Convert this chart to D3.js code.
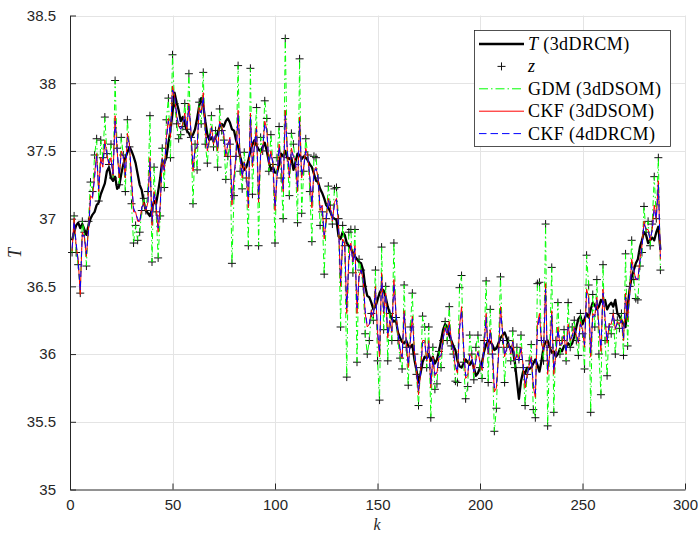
<!DOCTYPE html>
<html>
<head>
<meta charset="utf-8">
<script src="https://cdn.jsdelivr.net/npm/d3@7"></script>
<style>
  body { margin: 0; background: #fff; }
  svg { display: block; }
</style>
</head>
<body>
<svg id="chart"></svg>
<script>
// tick values
const xTicks = [0, 50, 100, 150, 200, 250, 300];
const yTicks = [35, 35.5, 36, 36.5, 37, 37.5, 38, 38.5];

// T (3dDRCM), k = 1..288
const tTrue = [
  36.84,36.90,36.95,36.97,36.93,36.96,36.92,36.88,36.95,37.00,37.03,37.05,
  37.10,37.12,37.18,37.22,37.26,37.35,37.38,37.30,37.28,37.31,37.22,37.24,
  37.33,37.40,37.45,37.49,37.53,37.50,37.46,37.41,37.33,37.25,37.21,37.12,
  37.06,37.04,37.02,37.07,37.13,37.11,37.20,37.30,37.43,37.41,37.45,37.56,
  37.65,37.78,37.93,37.86,37.80,37.72,37.75,37.70,37.65,37.63,37.60,37.62,
  37.66,37.74,37.83,37.89,37.84,37.72,37.62,37.58,37.60,37.57,37.60,37.63,
  37.68,37.70,37.68,37.72,37.74,37.71,37.66,37.65,37.58,37.53,37.46,37.40,
  37.36,37.38,37.43,37.50,37.55,37.58,37.54,37.51,37.50,37.53,37.56,37.50,
  37.42,37.36,37.38,37.34,37.34,37.40,37.48,37.46,37.50,37.45,37.44,37.45,
  37.36,37.42,37.48,37.47,37.44,37.46,37.45,37.43,37.40,37.38,37.33,37.28,
  37.27,37.22,37.19,37.15,37.10,37.08,37.05,37.01,37.00,36.99,36.87,36.85,
  36.90,36.88,36.82,36.80,36.78,36.75,36.72,36.70,36.68,36.67,36.62,36.50,
  36.43,36.42,36.38,36.33,36.35,36.40,36.45,36.48,36.47,36.42,36.35,36.30,
  36.26,36.24,36.25,36.16,36.12,36.09,36.08,36.10,36.06,36.05,36.07,35.96,
  35.88,35.79,35.86,35.94,35.98,35.97,36.00,35.95,35.98,35.93,35.96,36.02,
  36.10,36.18,36.22,36.20,36.14,36.10,36.06,36.03,35.95,35.91,35.90,35.93,
  35.96,35.94,35.92,35.95,35.90,35.84,35.86,35.90,35.94,36.02,36.07,36.10,
  36.09,36.07,36.03,36.04,36.08,36.12,36.14,36.16,36.12,36.06,36.05,36.03,
  35.94,35.80,35.67,35.80,35.87,35.86,35.90,35.89,35.90,35.93,35.96,35.92,
  35.87,35.95,36.05,36.09,36.10,36.05,36.01,36.02,35.98,36.00,36.04,36.02,
  36.06,36.05,36.08,36.06,36.08,36.13,36.20,36.26,36.28,36.22,36.26,36.30,
  36.27,36.33,36.38,36.36,36.33,36.35,36.40,36.38,36.40,36.33,36.36,36.38,
  36.35,36.40,36.30,36.28,36.25,36.22,36.20,36.35,36.48,36.57,36.62,36.67,
  36.70,36.79,36.84,36.90,36.88,36.82,36.84,36.86,36.84,36.90,36.94,36.77
];

// z measurements (the GDM (3dDSOM) curve runs through them)
const zMeas = [
  36.75,37.02,36.75,36.66,36.45,36.98,36.90,36.65,36.98,37.27,37.20,37.47,
  37.59,37.13,37.58,37.45,37.75,37.48,37.40,37.55,37.30,38.02,37.52,37.25,
  37.60,37.47,37.20,37.73,37.53,37.11,36.82,36.95,36.84,36.90,37.06,37.15,
  37.06,37.20,37.76,36.68,37.38,37.05,36.71,37.02,37.52,37.23,37.73,37.89,
  37.45,38.21,37.85,37.70,37.59,37.62,37.68,37.85,37.66,38.07,37.60,37.11,
  37.55,37.36,37.86,37.70,38.08,37.55,37.41,37.60,37.76,37.53,37.65,37.38,
  37.81,37.65,37.58,37.29,37.46,37.55,36.67,37.17,37.46,38.13,37.35,37.22,
  37.49,37.30,36.80,38.11,37.18,37.55,37.82,36.80,37.60,37.50,37.87,37.74,
  37.35,37.62,37.40,36.82,37.45,37.68,37.30,37.00,38.33,37.45,37.17,37.63,
  37.55,37.40,36.97,38.18,37.04,37.35,37.59,37.47,37.20,36.83,37.46,37.45,
  37.30,36.95,37.05,36.59,37.00,37.24,37.10,36.96,37.22,37.23,37.00,36.20,
  36.95,36.80,35.83,36.90,36.92,36.60,36.92,35.94,36.70,36.62,36.50,36.15,
  36.00,36.10,36.30,36.25,36.62,35.95,35.66,36.79,36.18,36.50,35.95,36.30,
  36.10,36.82,36.27,36.10,35.97,35.89,36.51,36.05,35.77,36.20,36.45,36.00,
  35.85,35.62,35.90,36.28,36.20,35.90,36.20,35.53,36.05,35.74,35.78,36.02,
  35.90,36.10,36.24,36.10,36.35,36.06,36.00,35.80,35.79,36.49,36.58,35.94,
  35.67,35.76,36.14,36.00,35.81,36.05,36.14,35.90,35.82,36.10,36.54,35.79,
  36.33,36.00,35.43,35.60,36.05,36.57,36.10,35.79,36.05,36.10,35.95,36.17,
  35.90,36.05,35.96,36.14,35.90,35.62,35.85,35.95,36.07,35.59,35.53,36.52,
  36.53,36.10,35.95,36.96,35.47,36.05,36.64,35.57,36.10,36.38,36.00,36.10,
  36.18,35.95,36.38,36.05,36.20,36.25,36.10,35.99,36.30,36.15,35.89,36.73,
  36.51,35.57,36.44,36.20,36.55,36.00,35.70,36.66,36.10,35.84,36.20,36.15,
  36.30,36.00,36.25,36.19,36.30,35.99,36.74,36.06,36.50,36.84,36.55,36.41,
  36.40,36.65,36.75,37.09,36.90,36.98,36.80,36.96,37.31,37.00,37.45,36.62
];

// CKF (3dDSOM)
const ckf3d = [
  36.76,37.00,36.80,36.70,36.44,36.90,36.86,36.72,36.92,37.17,37.15,37.33,
  37.48,37.20,37.45,37.38,37.58,37.47,37.40,37.45,37.32,37.76,37.50,37.30,
  37.50,37.46,37.30,37.63,37.55,37.28,37.05,37.05,36.98,36.98,37.08,37.12,
  37.06,37.12,37.45,36.95,37.20,37.10,36.90,37.10,37.45,37.35,37.60,37.74,
  37.60,37.98,37.90,37.76,37.68,37.66,37.70,37.78,37.66,37.85,37.64,37.35,
  37.52,37.52,37.82,37.78,37.93,37.65,37.50,37.58,37.68,37.55,37.62,37.50,
  37.72,37.68,37.62,37.46,37.55,37.60,37.10,37.30,37.48,37.80,37.45,37.30,
  37.42,37.34,37.08,37.78,37.38,37.55,37.68,37.12,37.48,37.50,37.72,37.66,
  37.40,37.50,37.40,37.06,37.32,37.55,37.40,37.20,37.80,37.50,37.30,37.52,
  37.46,37.42,37.20,37.75,37.30,37.38,37.52,37.46,37.30,37.08,37.36,37.38,
  37.30,37.06,37.10,36.85,37.00,37.15,37.08,36.98,37.12,37.15,36.95,36.50,
  36.85,36.82,36.30,36.70,36.82,36.68,36.80,36.30,36.58,36.62,36.55,36.30,
  36.20,36.22,36.32,36.28,36.50,36.15,35.98,36.60,36.30,36.45,36.12,36.25,
  36.16,36.55,36.30,36.15,36.03,35.97,36.32,36.10,35.90,36.10,36.28,36.02,
  35.88,35.70,35.86,36.10,36.10,35.95,36.10,35.75,35.98,35.84,35.86,35.98,
  35.98,36.12,36.20,36.14,36.24,36.10,36.02,35.90,35.86,36.20,36.35,36.05,
  35.82,35.84,36.00,35.98,35.86,35.96,36.02,35.94,35.88,36.06,36.30,36.00,
  36.18,36.04,35.72,35.75,35.98,36.35,36.16,35.98,36.04,36.08,36.00,36.10,
  35.95,36.00,35.95,36.05,35.92,35.75,35.84,35.92,35.98,35.76,35.68,36.22,
  36.30,36.08,36.02,36.52,35.85,36.00,36.32,35.85,36.00,36.20,36.06,36.08,
  36.14,36.00,36.22,36.10,36.14,36.20,36.14,36.08,36.24,36.18,36.05,36.48,
  36.42,35.98,36.30,36.28,36.42,36.20,36.02,36.48,36.26,36.08,36.22,36.22,
  36.30,36.18,36.24,36.22,36.26,36.10,36.45,36.25,36.45,36.70,36.62,36.55,
  36.55,36.70,36.80,36.98,36.92,36.92,36.84,36.92,37.10,37.00,37.28,36.70
];

// CKF (4dDRCM)
const ckf4d = [
  36.78,36.98,36.82,36.68,36.47,36.88,36.87,36.74,36.90,37.15,37.16,37.30,
  37.46,37.22,37.42,37.40,37.55,37.48,37.41,37.43,37.33,37.72,37.51,37.32,
  37.48,37.46,37.32,37.60,37.55,37.30,37.08,37.04,37.00,36.97,37.08,37.11,
  37.07,37.12,37.42,36.98,37.19,37.11,36.93,37.09,37.44,37.36,37.58,37.72,
  37.62,37.95,37.91,37.77,37.69,37.66,37.70,37.76,37.67,37.83,37.65,37.38,
  37.51,37.53,37.80,37.78,37.90,37.66,37.52,37.58,37.67,37.56,37.62,37.52,
  37.70,37.68,37.63,37.48,37.55,37.59,37.14,37.30,37.47,37.77,37.46,37.31,
  37.41,37.35,37.11,37.75,37.40,37.54,37.66,37.15,37.47,37.51,37.70,37.65,
  37.41,37.48,37.41,37.09,37.31,37.53,37.41,37.22,37.76,37.51,37.32,37.50,
  37.46,37.42,37.22,37.72,37.32,37.38,37.50,37.46,37.31,37.11,37.34,37.37,
  37.30,37.08,37.09,36.88,36.99,37.14,37.08,36.99,37.10,37.14,36.95,36.53,
  36.83,36.82,36.34,36.68,36.80,36.68,36.78,36.34,36.57,36.62,36.55,36.32,
  36.21,36.22,36.31,36.28,36.48,36.18,36.01,36.57,36.31,36.44,36.14,36.24,
  36.17,36.52,36.31,36.15,36.04,35.98,36.30,36.10,35.92,36.09,36.26,36.03,
  35.89,35.73,35.86,36.08,36.09,35.96,36.08,35.78,35.97,35.85,35.87,35.98,
  35.99,36.11,36.19,36.14,36.22,36.10,36.03,35.92,35.87,36.17,36.32,36.06,
  35.84,35.85,35.99,35.98,35.87,35.95,36.01,35.94,35.89,36.05,36.27,36.01,
  36.17,36.05,35.75,35.77,35.97,36.32,36.16,35.99,36.04,36.08,36.01,36.09,
  35.95,35.99,35.95,36.04,35.93,35.78,35.84,35.91,35.97,35.78,35.71,36.18,
  36.28,36.09,36.03,36.48,35.88,36.00,36.29,35.88,35.99,36.18,36.07,36.08,
  36.13,36.01,36.20,36.10,36.13,36.19,36.15,36.09,36.22,36.18,36.07,36.45,
  36.41,36.01,36.28,36.28,36.40,36.21,36.05,36.45,36.27,36.10,36.21,36.22,
  36.29,36.19,36.23,36.22,36.25,36.12,36.42,36.27,36.43,36.67,36.62,36.56,
  36.55,36.68,36.79,36.96,36.92,36.91,36.85,36.91,37.07,37.00,37.25,36.72
];

const width = 698;
const height = 533;
const plotLeft = 70, plotRight = 685, plotTop = 15.5, plotBottom = 489.5;
const axisColor = "#262626";
const serif = "'Liberation Serif', 'Times New Roman', serif";

const svg = d3.select("#chart").attr("width", width).attr("height", height);

const x = d3.scaleLinear().domain([0, 300]).range([plotLeft, plotRight]);
const y = d3.scaleLinear().domain([35, 38.5]).range([plotBottom, plotTop]);

// grid
const grid = svg.append("g").attr("stroke", "#e4e4e4").attr("stroke-width", 1);
grid.selectAll("line.gx").data(xTicks.slice(1)).join("line")
  .attr("x1", d => Math.round(x(d)) + 0.5).attr("x2", d => Math.round(x(d)) + 0.5)
  .attr("y1", plotTop).attr("y2", plotBottom);
grid.selectAll("line.gy").data(yTicks.slice(1)).join("line")
  .attr("x1", plotLeft).attr("x2", plotRight)
  .attr("y1", d => Math.round(y(d)) + 0.5).attr("y2", d => Math.round(y(d)) + 0.5);

// axes (MATLAB style: ticks inside, no box)
const xAxis = d3.axisBottom(x).tickValues(xTicks).tickSizeInner(-6).tickSizeOuter(0).tickPadding(10);
const yAxis = d3.axisLeft(y).tickValues(yTicks).tickSizeInner(-6).tickSizeOuter(0).tickPadding(14)
  .tickFormat(d3.format("~g"));

const gx = svg.append("g").attr("transform", `translate(0,${plotBottom})`).call(xAxis);
const gy = svg.append("g").attr("transform", `translate(${plotLeft},0)`).call(yAxis);
[gx, gy].forEach(g => {
  g.select(".domain").attr("stroke", axisColor);
  g.selectAll(".tick line").attr("stroke", axisColor);
  g.selectAll(".tick text").attr("fill", axisColor)
    .attr("font-family", "'Liberation Sans', Arial, sans-serif").attr("font-size", 15);
});

const line = arr => d3.line().x((d, i) => x(i + 1)).y(d => y(d))(arr);

const plot = svg.append("g");

// T (3dDRCM)
plot.append("path").attr("d", line(tTrue))
  .attr("fill", "none").attr("stroke", "#000").attr("stroke-width", 2.3)
  .attr("stroke-linejoin", "round");

// z markers
plot.selectAll("path.z").data(zMeas).join("path")
  .attr("d", (d, i) => `M${x(i + 1) - 4},${y(d)}h8M${x(i + 1)},${y(d) - 4}v8`)
  .attr("stroke", "#111").attr("stroke-width", 1).attr("fill", "none");

// GDM (3dDSOM)
plot.append("path").attr("d", line(zMeas))
  .attr("fill", "none").attr("stroke", "#00ff00").attr("stroke-width", 1)
  .attr("stroke-dasharray", "6,3,1.5,3");

// CKF (3dDSOM)
plot.append("path").attr("d", line(ckf3d))
  .attr("fill", "none").attr("stroke", "#ff0000").attr("stroke-width", 1);

// CKF (4dDRCM)
plot.append("path").attr("d", line(ckf4d))
  .attr("fill", "none").attr("stroke", "#0000ff").attr("stroke-width", 1)
  .attr("stroke-dasharray", "6,4");

// axis labels
svg.append("text").attr("x", 377).attr("y", 529.5).attr("text-anchor", "middle")
  .attr("font-family", serif).attr("font-style", "italic")
  .attr("font-size", 16).attr("fill", axisColor).text("k");
svg.append("text").attr("transform", "translate(21,253) rotate(-90)").attr("text-anchor", "middle")
  .attr("font-family", serif).attr("font-style", "italic")
  .attr("font-size", 18).attr("fill", axisColor).text("T");

// legend
const legend = svg.append("g");
legend.append("rect").attr("x", 474.5).attr("y", 30.5).attr("width", 196).attr("height", 116)
  .attr("fill", "#fff").attr("stroke", axisColor).attr("stroke-width", 0.8);

const rows = [
  { name: ["T", " (3dDRCM)"], stroke: "#000", w: 2.3, dash: null },
  { name: ["z", ""], marker: true },
  { name: ["", "GDM (3dDSOM)"], stroke: "#00ff00", w: 1, dash: "9,3,1.5,3" },
  { name: ["", "CKF (3dDSOM)"], stroke: "#ff0000", w: 1, dash: null },
  { name: ["", "CKF (4dDRCM)"], stroke: "#0000ff", w: 1, dash: "7.5,4" }
];
rows.forEach((r, i) => {
  const cy = 44 + i * 22.4;
  if (r.marker) {
    legend.append("path").attr("d", `M${501.5 - 4},${cy}h8M${501.5},${cy - 4}v8`)
      .attr("stroke", "#111").attr("stroke-width", 1);
  } else {
    legend.append("line").attr("x1", 479).attr("x2", 524).attr("y1", cy).attr("y2", cy)
      .attr("stroke", r.stroke).attr("stroke-width", r.w)
      .attr("stroke-dasharray", r.dash);
  }
  const t = legend.append("text").attr("x", 528).attr("y", cy + 6)
    .attr("font-family", serif).attr("font-size", 18).attr("letter-spacing", 0.4)
    .attr("fill", "#000");
  if (r.name[0]) t.append("tspan").attr("font-style", "italic").text(r.name[0]);
  if (r.name[1]) t.append("tspan").text(r.name[1]);
});
</script>
</body>
</html>
